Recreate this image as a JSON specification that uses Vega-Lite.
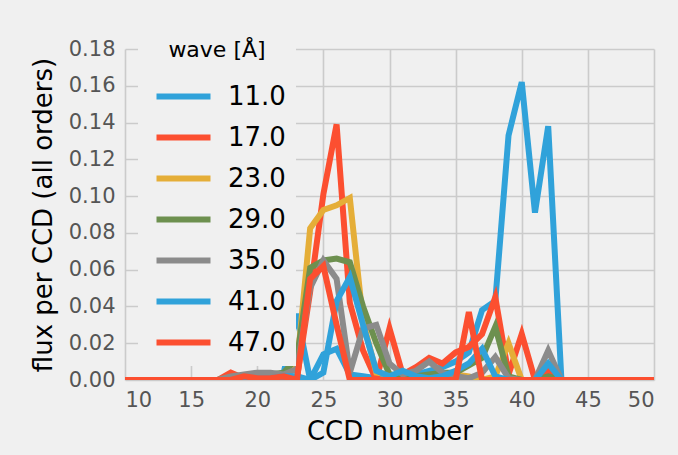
{
  "$schema": "https://vega.github.io/schema/vega-lite/v6.json",
  "autosize": "none",
  "width": 529,
  "height": 331,
  "padding": {"left": 125, "top": 49, "right": 24, "bottom": 75},
  "background": "#f0f0f0",
  "config": {
    "view": {"stroke": null, "fill": "#f0f0f0"},
    "font": "DejaVu Sans",
    "axis": {
      "grid": true, "gridColor": "#cbcbcb", "gridWidth": 1.6,
      "domain": false, "ticks": false,
      "labelFont": "DejaVu Sans", "labelFontSize": 21, "labelColor": "#555555",
      "titleFont": "DejaVu Sans", "titleFontSize": 26, "titleColor": "#000000", "titleFontWeight": "normal"
    }
  },
  "data": {"values": [
    {"ccd":10,"flux":0,"wave":"11.0"},{"ccd":16,"flux":0,"wave":"11.0"},{"ccd":17,"flux":0,"wave":"11.0"},{"ccd":18,"flux":0,"wave":"11.0"},{"ccd":19,"flux":0.001,"wave":"11.0"},{"ccd":20,"flux":0.002,"wave":"11.0"},{"ccd":21,"flux":0.002,"wave":"11.0"},{"ccd":22,"flux":0.004,"wave":"11.0"},{"ccd":23,"flux":0.036,"wave":"11.0"},{"ccd":24,"flux":0,"wave":"11.0"},{"ccd":25,"flux":0.014,"wave":"11.0"},{"ccd":26,"flux":0.017,"wave":"11.0"},{"ccd":27,"flux":0.003,"wave":"11.0"},{"ccd":28,"flux":0.002,"wave":"11.0"},{"ccd":29,"flux":0.001,"wave":"11.0"},{"ccd":30,"flux":0.001,"wave":"11.0"},{"ccd":31,"flux":0.002,"wave":"11.0"},{"ccd":32,"flux":0.003,"wave":"11.0"},{"ccd":33,"flux":0.005,"wave":"11.0"},{"ccd":34,"flux":0.007,"wave":"11.0"},{"ccd":35,"flux":0.01,"wave":"11.0"},{"ccd":36,"flux":0.015,"wave":"11.0"},{"ccd":37,"flux":0.038,"wave":"11.0"},{"ccd":38,"flux":0.043,"wave":"11.0"},{"ccd":39,"flux":0.133,"wave":"11.0"},{"ccd":40,"flux":0.162,"wave":"11.0"},{"ccd":41,"flux":0.091,"wave":"11.0"},{"ccd":42,"flux":0.138,"wave":"11.0"},{"ccd":43,"flux":0,"wave":"11.0"},{"ccd":44,"flux":0,"wave":"11.0"},{"ccd":50,"flux":0,"wave":"11.0"},

    {"ccd":10,"flux":0,"wave":"17.0"},{"ccd":16,"flux":0,"wave":"17.0"},{"ccd":17,"flux":0,"wave":"17.0"},{"ccd":18,"flux":0.004,"wave":"17.0"},{"ccd":19,"flux":0.001,"wave":"17.0"},{"ccd":20,"flux":0,"wave":"17.0"},{"ccd":21,"flux":0,"wave":"17.0"},{"ccd":22,"flux":0.001,"wave":"17.0"},{"ccd":23,"flux":0.001,"wave":"17.0"},{"ccd":24,"flux":0.048,"wave":"17.0"},{"ccd":25,"flux":0.101,"wave":"17.0"},{"ccd":26,"flux":0.139,"wave":"17.0"},{"ccd":27,"flux":0.042,"wave":"17.0"},{"ccd":28,"flux":0.016,"wave":"17.0"},{"ccd":29,"flux":0,"wave":"17.0"},{"ccd":30,"flux":0.028,"wave":"17.0"},{"ccd":31,"flux":0.003,"wave":"17.0"},{"ccd":32,"flux":0.007,"wave":"17.0"},{"ccd":33,"flux":0.012,"wave":"17.0"},{"ccd":34,"flux":0.009,"wave":"17.0"},{"ccd":35,"flux":0.015,"wave":"17.0"},{"ccd":36,"flux":0.018,"wave":"17.0"},{"ccd":37,"flux":0.025,"wave":"17.0"},{"ccd":38,"flux":0.045,"wave":"17.0"},{"ccd":39,"flux":0.003,"wave":"17.0"},{"ccd":40,"flux":0.025,"wave":"17.0"},{"ccd":41,"flux":0,"wave":"17.0"},{"ccd":42,"flux":0.005,"wave":"17.0"},{"ccd":43,"flux":0,"wave":"17.0"},{"ccd":44,"flux":0,"wave":"17.0"},{"ccd":50,"flux":0,"wave":"17.0"},

    {"ccd":10,"flux":0,"wave":"23.0"},{"ccd":16,"flux":0,"wave":"23.0"},{"ccd":17,"flux":0,"wave":"23.0"},{"ccd":18,"flux":0.001,"wave":"23.0"},{"ccd":19,"flux":0.002,"wave":"23.0"},{"ccd":20,"flux":0.002,"wave":"23.0"},{"ccd":21,"flux":0.002,"wave":"23.0"},{"ccd":22,"flux":0.003,"wave":"23.0"},{"ccd":23,"flux":0.007,"wave":"23.0"},{"ccd":24,"flux":0.0825,"wave":"23.0"},{"ccd":25,"flux":0.0925,"wave":"23.0"},{"ccd":26,"flux":0.095,"wave":"23.0"},{"ccd":27,"flux":0.099,"wave":"23.0"},{"ccd":28,"flux":0.032,"wave":"23.0"},{"ccd":29,"flux":0.004,"wave":"23.0"},{"ccd":30,"flux":0.003,"wave":"23.0"},{"ccd":31,"flux":0.002,"wave":"23.0"},{"ccd":32,"flux":0.001,"wave":"23.0"},{"ccd":33,"flux":0.002,"wave":"23.0"},{"ccd":34,"flux":0.003,"wave":"23.0"},{"ccd":35,"flux":0.003,"wave":"23.0"},{"ccd":36,"flux":0.002,"wave":"23.0"},{"ccd":37,"flux":0,"wave":"23.0"},{"ccd":38,"flux":0.002,"wave":"23.0"},{"ccd":39,"flux":0.02,"wave":"23.0"},{"ccd":40,"flux":0,"wave":"23.0"},{"ccd":41,"flux":0,"wave":"23.0"},{"ccd":42,"flux":0.001,"wave":"23.0"},{"ccd":43,"flux":0,"wave":"23.0"},{"ccd":44,"flux":0,"wave":"23.0"},{"ccd":50,"flux":0,"wave":"23.0"},

    {"ccd":10,"flux":0,"wave":"29.0"},{"ccd":16,"flux":0,"wave":"29.0"},{"ccd":17,"flux":0,"wave":"29.0"},{"ccd":18,"flux":0.001,"wave":"29.0"},{"ccd":19,"flux":0.001,"wave":"29.0"},{"ccd":20,"flux":0.002,"wave":"29.0"},{"ccd":21,"flux":0.003,"wave":"29.0"},{"ccd":22,"flux":0.004,"wave":"29.0"},{"ccd":23,"flux":0.012,"wave":"29.0"},{"ccd":24,"flux":0.061,"wave":"29.0"},{"ccd":25,"flux":0.065,"wave":"29.0"},{"ccd":26,"flux":0.066,"wave":"29.0"},{"ccd":27,"flux":0.064,"wave":"29.0"},{"ccd":28,"flux":0.04,"wave":"29.0"},{"ccd":29,"flux":0.02,"wave":"29.0"},{"ccd":30,"flux":0.003,"wave":"29.0"},{"ccd":31,"flux":0.002,"wave":"29.0"},{"ccd":32,"flux":0.002,"wave":"29.0"},{"ccd":33,"flux":0.003,"wave":"29.0"},{"ccd":34,"flux":0.004,"wave":"29.0"},{"ccd":35,"flux":0.004,"wave":"29.0"},{"ccd":36,"flux":0.008,"wave":"29.0"},{"ccd":37,"flux":0.012,"wave":"29.0"},{"ccd":38,"flux":0.029,"wave":"29.0"},{"ccd":39,"flux":0.002,"wave":"29.0"},{"ccd":40,"flux":0,"wave":"29.0"},{"ccd":41,"flux":0,"wave":"29.0"},{"ccd":42,"flux":0.002,"wave":"29.0"},{"ccd":43,"flux":0,"wave":"29.0"},{"ccd":44,"flux":0,"wave":"29.0"},{"ccd":50,"flux":0,"wave":"29.0"},

    {"ccd":10,"flux":0,"wave":"35.0"},{"ccd":16,"flux":0,"wave":"35.0"},{"ccd":17,"flux":0,"wave":"35.0"},{"ccd":18,"flux":0.002,"wave":"35.0"},{"ccd":19,"flux":0.003,"wave":"35.0"},{"ccd":20,"flux":0.004,"wave":"35.0"},{"ccd":21,"flux":0.004,"wave":"35.0"},{"ccd":22,"flux":0.003,"wave":"35.0"},{"ccd":23,"flux":0.006,"wave":"35.0"},{"ccd":24,"flux":0.05,"wave":"35.0"},{"ccd":25,"flux":0.065,"wave":"35.0"},{"ccd":26,"flux":0.055,"wave":"35.0"},{"ccd":27,"flux":0.004,"wave":"35.0"},{"ccd":28,"flux":0.028,"wave":"35.0"},{"ccd":29,"flux":0.03,"wave":"35.0"},{"ccd":30,"flux":0.009,"wave":"35.0"},{"ccd":31,"flux":0.003,"wave":"35.0"},{"ccd":32,"flux":0.005,"wave":"35.0"},{"ccd":33,"flux":0.01,"wave":"35.0"},{"ccd":34,"flux":0.004,"wave":"35.0"},{"ccd":35,"flux":0.002,"wave":"35.0"},{"ccd":36,"flux":0.001,"wave":"35.0"},{"ccd":37,"flux":0.004,"wave":"35.0"},{"ccd":38,"flux":0.0125,"wave":"35.0"},{"ccd":39,"flux":0.001,"wave":"35.0"},{"ccd":40,"flux":0,"wave":"35.0"},{"ccd":41,"flux":0,"wave":"35.0"},{"ccd":42,"flux":0.016,"wave":"35.0"},{"ccd":43,"flux":0,"wave":"35.0"},{"ccd":44,"flux":0,"wave":"35.0"},{"ccd":50,"flux":0,"wave":"35.0"},

    {"ccd":10,"flux":0,"wave":"41.0"},{"ccd":16,"flux":0,"wave":"41.0"},{"ccd":17,"flux":0,"wave":"41.0"},{"ccd":18,"flux":0,"wave":"41.0"},{"ccd":19,"flux":0,"wave":"41.0"},{"ccd":20,"flux":0.001,"wave":"41.0"},{"ccd":21,"flux":0.001,"wave":"41.0"},{"ccd":22,"flux":0.002,"wave":"41.0"},{"ccd":23,"flux":0.002,"wave":"41.0"},{"ccd":24,"flux":0,"wave":"41.0"},{"ccd":25,"flux":0.004,"wave":"41.0"},{"ccd":26,"flux":0.043,"wave":"41.0"},{"ccd":27,"flux":0.056,"wave":"41.0"},{"ccd":28,"flux":0.03,"wave":"41.0"},{"ccd":29,"flux":0.005,"wave":"41.0"},{"ccd":30,"flux":0.002,"wave":"41.0"},{"ccd":31,"flux":0.005,"wave":"41.0"},{"ccd":32,"flux":0.002,"wave":"41.0"},{"ccd":33,"flux":0.001,"wave":"41.0"},{"ccd":34,"flux":0.002,"wave":"41.0"},{"ccd":35,"flux":0.005,"wave":"41.0"},{"ccd":36,"flux":0.009,"wave":"41.0"},{"ccd":37,"flux":0.017,"wave":"41.0"},{"ccd":38,"flux":0.002,"wave":"41.0"},{"ccd":39,"flux":0,"wave":"41.0"},{"ccd":40,"flux":0,"wave":"41.0"},{"ccd":41,"flux":0,"wave":"41.0"},{"ccd":42,"flux":0.009,"wave":"41.0"},{"ccd":43,"flux":0,"wave":"41.0"},{"ccd":44,"flux":0,"wave":"41.0"},{"ccd":50,"flux":0,"wave":"41.0"},

    {"ccd":10,"flux":0,"wave":"47.0"},{"ccd":16,"flux":0,"wave":"47.0"},{"ccd":17,"flux":0,"wave":"47.0"},{"ccd":18,"flux":0,"wave":"47.0"},{"ccd":19,"flux":0.002,"wave":"47.0"},{"ccd":20,"flux":0.001,"wave":"47.0"},{"ccd":21,"flux":0.001,"wave":"47.0"},{"ccd":22,"flux":0.002,"wave":"47.0"},{"ccd":23,"flux":0,"wave":"47.0"},{"ccd":24,"flux":0.055,"wave":"47.0"},{"ccd":25,"flux":0.062,"wave":"47.0"},{"ccd":26,"flux":0.03,"wave":"47.0"},{"ccd":27,"flux":0,"wave":"47.0"},{"ccd":28,"flux":0,"wave":"47.0"},{"ccd":29,"flux":0,"wave":"47.0"},{"ccd":30,"flux":0,"wave":"47.0"},{"ccd":31,"flux":0,"wave":"47.0"},{"ccd":32,"flux":0,"wave":"47.0"},{"ccd":33,"flux":0,"wave":"47.0"},{"ccd":34,"flux":0,"wave":"47.0"},{"ccd":35,"flux":0,"wave":"47.0"},{"ccd":36,"flux":0.037,"wave":"47.0"},{"ccd":37,"flux":0,"wave":"47.0"},{"ccd":38,"flux":0,"wave":"47.0"},{"ccd":39,"flux":0,"wave":"47.0"},{"ccd":40,"flux":0,"wave":"47.0"},{"ccd":41,"flux":0,"wave":"47.0"},{"ccd":42,"flux":0,"wave":"47.0"},{"ccd":43,"flux":0,"wave":"47.0"},{"ccd":44,"flux":0,"wave":"47.0"},{"ccd":50,"flux":0,"wave":"47.0"}
  ]},
  "mark": {"type": "line", "strokeWidth": 6, "clip": true},
  "encoding": {
    "x": {"field": "ccd", "type": "quantitative", "title": "CCD number",
      "scale": {"domain": [10, 50], "nice": false, "zero": false},
      "axis": {"values": [10, 15, 20, 25, 30, 35, 40, 45, 50], "labelPadding": 9, "titlePadding": 8}},
    "y": {"field": "flux", "type": "quantitative", "title": "flux per CCD (all orders)",
      "scale": {"domain": [0, 0.18], "nice": false},
      "axis": {"values": [0, 0.02, 0.04, 0.06, 0.08, 0.1, 0.12, 0.14, 0.16, 0.18], "format": ".2f", "labelPadding": 10, "titlePadding": 12}},
    "color": {"field": "wave", "type": "nominal", "title": "wave [Å]",
      "scale": {"domain": ["11.0", "17.0", "23.0", "29.0", "35.0", "41.0", "47.0"],
        "range": ["#30a2da", "#fc4f30", "#e5ae38", "#6d904f", "#8b8b8b", "#30a2da", "#fc4f30"]},
      "legend": {"orient": "none", "legendX": 13, "legendY": -19,
        "fillColor": "#f0f0f0", "padding": 10,
        "symbolType": "M-2,0H2", "symbolSize": 729, "symbolStrokeWidth": 6, "symbolOffset": 19,
        "labelFont": "DejaVu Sans", "labelFontSize": 26, "labelColor": "#000000", "labelOffset": 28,
        "titleFont": "DejaVu Sans", "titleFontSize": 22, "titleFontWeight": "normal", "titleColor": "#000000",
        "titleAnchor": "middle", "titlePadding": 18, "rowPadding": 11}}
  }
}
